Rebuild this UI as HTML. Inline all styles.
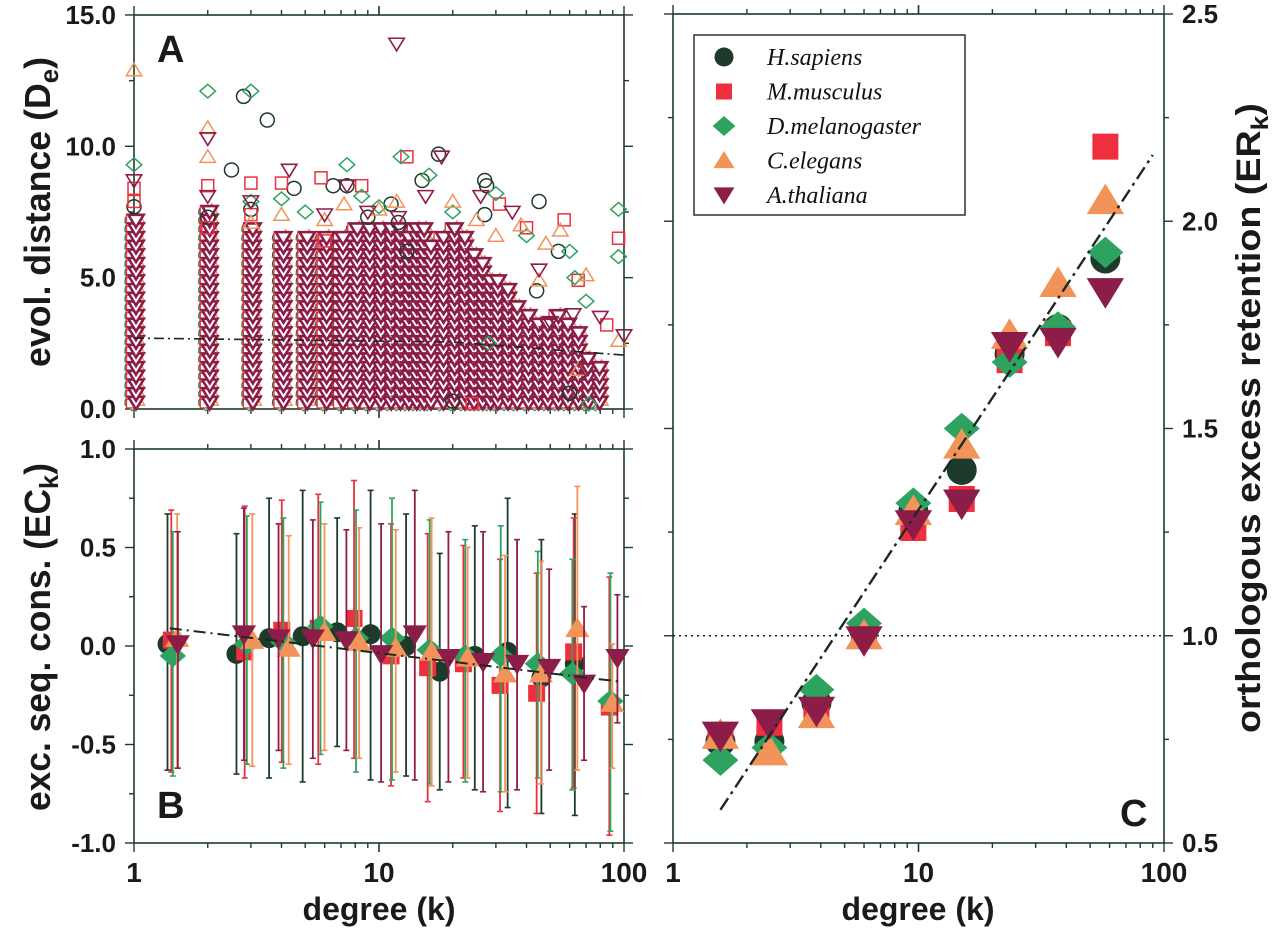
<!DOCTYPE html>
<html><head><meta charset="utf-8"><style>
html,body{margin:0;padding:0;background:#fff;}
svg{display:block;font-family:"Liberation Sans",sans-serif;}
</style></head><body>
<svg id="fig" width="1280" height="938" viewBox="0 0 1280 938" xmlns="http://www.w3.org/2000/svg"></svg>
<script>
// ---------- Panel A data ----------
const colDegreesA=[1,2,3,4,5,6,7,8,9,10,11,12,13,14,15,16,18,20,22,24,26,28,30,33,36,40,44,48,53,58,64,70,78];
const colTopsA=[7.4,7.6,6.9,6.8,6.6,6.6,6.8,6.9,6.9,7.0,7.0,6.9,6.8,6.9,7.0,6.5,6.6,6.9,6.6,6.1,5.6,5.2,5.0,4.8,4.2,3.8,3.5,3.4,3.6,3.3,2.9,2.0,1.6];
const hsOutK=[2.8,3.5,2.5,7.4,4.5,17.5,15,27,27.5,11.2,45,6.5,12,54,27,44,20,1,2,3,9,13,60];
const hsOutV=[11.9,11.0,9.1,8.5,8.4,9.7,8.7,8.7,8.5,7.8,7.9,8.5,7.1,6.0,7.4,4.5,0.3,7.7,7.3,7.6,7.3,6.0,0.6];
const mmOutK=[1,2,3,4,5.8,8.5,13,31,57,95,85,65,6,3,2,1,40,24];
const mmOutV=[8.4,8.5,8.6,8.6,8.8,8.5,9.6,7.8,7.2,6.5,3.2,4.9,6.4,7.4,6.9,7.9,6.9,0.2];
const dmOutK=[1,2,3,12.3,7.4,8.5,4,30,16,95,95,60,63,70,20,3,5,10,40,72,28];
const dmOutV=[9.3,12.1,12.1,9.6,9.3,8.1,8.0,8.2,8.9,7.6,5.8,6.0,5.0,4.1,7.5,7.9,7.5,7.7,6.6,0.2,2.5];
const ceOutK=[1,2,2,3,20,11.8,7.2,38,55,30,48,70,95,4,6,10,25,45,65];
const ceOutV=[12.9,10.7,9.6,7.1,7.9,7.9,7.8,7.0,6.8,6.6,6.3,5.1,2.6,7.4,7.2,7.6,7.2,4.9,1.5];
const atOutK=[11.8,2,3,4.3,7.4,18,15.5,26,35,80,100,2,1,6,9,12,45,62,50,70];
const atOutV=[13.9,10.3,7.9,9.1,8.5,9.6,8.1,8.1,7.5,3.5,2.8,8.1,8.7,7.4,7.5,7.3,5.3,3.6,3.3,1.5];
const trendAK=[1,20,100];
const trendAV=[2.7,2.55,2.05];
const yTicksA=["0.0","5.0","10.0","15.0"];
const yTickValsA=[0,5,10,15];

// ---------- Panel B data ----------
const hsK=[1.37,2.62,3.56,4.88,6.75,9.24,12.9,17.7,24.6,33.5,46,63];
const hsV=[0.01,-0.04,0.04,0.05,0.07,0.06,0.0,-0.13,-0.05,-0.03,-0.16,-0.09];
const hsHi=[0.67,0.57,0.75,0.79,0.65,0.79,0.67,0.47,0.61,0.75,0.54,0.67];
const hsLo=[-0.63,-0.65,-0.67,-0.69,-0.51,-0.68,-0.66,-0.73,-0.73,-0.82,-0.85,-0.86];
const mmK=[1.42,2.83,4.01,5.65,7.91,11.2,15.8,22.1,31.2,44,62.3,87.1];
const mmV=[0.03,-0.03,0.08,0.09,0.14,-0.05,-0.11,-0.09,-0.2,-0.24,-0.03,-0.31];
const mmHi=[0.69,0.71,0.74,0.77,0.84,0.62,0.57,0.51,0.44,0.37,0.65,0.35];
const mmLo=[-0.64,-0.67,-0.59,-0.6,-0.57,-0.71,-0.79,-0.67,-0.84,-0.85,-0.72,-0.96];
const dmK=[1.44,2.89,4.07,5.77,8.06,11.3,16.1,22.5,31.4,44.5,61.5,88];
const dmV=[-0.05,0.01,0.02,0.1,0.04,0.04,-0.02,-0.05,-0.05,-0.09,-0.14,-0.28];
const dmHi=[0.58,0.66,0.65,0.73,0.69,0.75,0.64,0.54,0.61,0.48,0.44,0.37];
const dmLo=[-0.66,-0.6,-0.62,-0.55,-0.64,-0.68,-0.7,-0.69,-0.74,-0.67,-0.73,-0.94];
const ceK=[1.5,3.04,4.28,5.99,8.3,11.7,16.4,23,32.7,45.8,64.5,89.6];
const ceV=[0.04,0.03,-0.01,0.07,0.02,-0.01,-0.03,-0.06,-0.14,-0.14,0.09,-0.29];
const ceHi=[0.67,0.67,0.56,0.62,0.6,0.59,0.65,0.5,0.46,0.43,0.81,0.01];
const ceLo=[-0.62,-0.61,-0.6,-0.53,-0.57,-0.64,-0.71,-0.67,-0.74,-0.7,-0.63,-0.62];
const atK=[1.51,2.81,3.89,5.37,7.36,10.2,14,19.2,26.6,36.6,49.5,68.7,94];
const atV=[0.01,0.06,0.04,0.04,0.03,-0.04,0.06,-0.06,-0.08,-0.09,-0.11,-0.19,-0.06];
const atHi=[0.58,0.7,0.62,0.64,0.59,0.62,0.79,0.58,0.58,0.54,0.39,0.2,0.26];
const atLo=[-0.62,-0.58,-0.53,-0.57,-0.53,-0.69,-0.68,-0.69,-0.74,-0.73,-0.63,-0.58,-0.39];
const trendBK=[1.4,95];
const trendBV=[0.09,-0.18];
const yTicksB=["-1.0","-0.5","0.0","0.5","1.0"];
const yTickValsB=[-1,-0.5,0,0.5,1];

// ---------- Panel C data ----------
const binK=[1.56,2.47,3.84,6.0,9.53,15,23.5,37,57.7];
const hsC=[0.745,0.745,0.838,1.015,1.30,1.40,1.68,1.74,1.91];
const mmC=[0.76,0.79,0.81,1.0,1.26,1.33,1.665,1.73,2.18];
const dmC=[0.70,0.73,0.87,1.03,1.32,1.50,1.66,1.745,1.925];
const ceC=[0.76,0.72,0.81,1.0,1.30,1.46,1.725,1.85,2.05];
const atC=[0.76,0.79,0.82,0.99,1.27,1.32,1.70,1.71,1.83];
const trendCK=[1.56,90];
const trendCV=[0.58,2.16];
const yTicksC=["0.5","1.0","1.5","2.0","2.5"];
const yTickValsC=[0.5,1,1.5,2,2.5];
const xTickLabels=["1","10","100"];
const xTickVals=[1,10,100];
const legendNames=["H.sapiens","M.musculus","D.melanogaster","C.elegans","A.thaliana"];

// ---------- scales ----------
const L=Math.log10;
const xA=k=>134+245*L(k);
const yA=v=>409-26.27*v;
const yB=v=>646-197*v;
const xC=k=>673+245.5*L(k);
const yC=v=>843-414.5*(v-0.5);

const NS="http://www.w3.org/2000/svg";
const svg=document.getElementById('fig');
function el(tag,attrs,parent){const e=document.createElementNS(NS,tag);for(const a in attrs)e.setAttribute(a,attrs[a]);(parent||svg).appendChild(e);return e;}
function grp(name){const g=el('g',{});


return g;}

const COL={hs:"#1d3a2a",mm:"#ee2f3d",dm:"#2ea35f",ce:"#f2935a",at:"#8c1c48"};
const AX="#1f3a2c";

function marker(g,type,x,y,s,fill,stroke,sw){
  let e;const h=s/2;
  if(type==='c')e=el('circle',{cx:x,cy:y,r:h},g);
  else if(type==='s')e=el('rect',{x:x-h,y:y-h,width:s,height:s},g);
  else if(type==='d')e=el('polygon',{points:`${x},${y-h*1.05} ${x+h*1.2},${y} ${x},${y+h*1.05} ${x-h*1.2},${y}`},g);
  else if(type==='u')e=el('polygon',{points:`${x},${y-h} ${x+h*1.1},${y+h*0.8} ${x-h*1.1},${y+h*0.8}`},g);
  else e=el('polygon',{points:`${x},${y+h} ${x+h*1.1},${y-h*0.8} ${x-h*1.1},${y-h*0.8}`},g);
  e.setAttribute('fill',fill);e.setAttribute('stroke',stroke||'none');e.setAttribute('stroke-width',sw||0);
  return e;
}

function frame(x0,x1,y0,y1,name){
  const g=grp(name);
  el('rect',{x:x0,y:y0,width:x1-x0,height:y1-y0,fill:'none',stroke:AX,'stroke-width':1.6},g);
  return g;
}
function logTicksX(g,xs,y0,y1){
  for(let d=0;d<2;d++)for(let m=1;m<=10;m++){
    const k=m*Math.pow(10,d);const x=xs(k);const major=(m===1||m===10);const len=major?9:5;
    el('line',{x1:x,y1:y1,x2:x,y2:y1+len,stroke:AX,'stroke-width':1.4},g);
    el('line',{x1:x,y1:y0,x2:x,y2:y0-len,stroke:AX,'stroke-width':1.4},g);
  }
}
function yTicks(g,x0,x1,vals,ys,minorStep,vmin,vmax){
  for(let v=vmin;v<=vmax+1e-9;v+=minorStep){
    const y=ys(v);const major=vals.some(t=>Math.abs(t-v)<1e-6);const len=major?9:5;
    el('line',{x1:x0,y1:y,x2:x0-len,y2:y,stroke:AX,'stroke-width':1.4},g);
    el('line',{x1:x1,y1:y,x2:x1+len,y2:y,stroke:AX,'stroke-width':1.4},g);
  }
}
function text(g,x,y,str,opts){
  const t=el('text',Object.assign({x:x,y:y,'font-weight':'bold','font-size':24,fill:'#1a1a1a'},opts||{}),g);
  t.textContent=str;return t;
}

// ===== Panel A =====
const gA=grp('panel-a');
const fa=frame(134,624,15,409,'panel-a-frame');
logTicksX(fa,xA,15,409);
yTicks(fa,134,624,yTickValsA,yA,2.5,0,15);
yTickValsA.forEach((v,i)=>{const t=text(fa,116,yA(v)+9,yTicksA[i],{'text-anchor':'end','font-size':26});

});

const gAp=grp('panel-a-points');
colDegreesA.forEach((k,i)=>{
  const x=xA(k);
  for(let v=0.25;v<=colTopsA[i];v+=0.33){
    if(k<=10)marker(gAp,'c',x-3,yA(v),12,'#fff','#3a4a40',1.1);
    marker(gAp,'d',x-2,yA(v)+2,12,'#fff',COL.dm,1.3);
    marker(gAp,'u',x+4,yA(v)-2,12,'#fff',COL.ce,1.4);
    marker(gAp,'s',x-2,yA(v),11,'#fff',COL.mm,1.3);
  }
});
colDegreesA.forEach((k,i)=>{
  const x=xA(k);
  for(let v=0.25;v<=colTopsA[i];v+=0.33){
    marker(gAp,'v',x+2,yA(v),14,'#fff',COL.at,2.6);
  }
});
hsOutK.forEach((k,i)=>marker(gAp,'c',xA(k),yA(hsOutV[i]),14,'none',COL.hs,1.5));
mmOutK.forEach((k,i)=>marker(gAp,'s',xA(k),yA(mmOutV[i]),12,'none',COL.mm,1.5));
dmOutK.forEach((k,i)=>marker(gAp,'d',xA(k),yA(dmOutV[i]),13,'none',COL.dm,1.5));
ceOutK.forEach((k,i)=>marker(gAp,'u',xA(k),yA(ceOutV[i]),14,'none',COL.ce,1.5));
atOutK.forEach((k,i)=>marker(gAp,'v',xA(k),yA(atOutV[i]),14,'none',COL.at,1.6));
const trA=el('polyline',{points:trendAK.map((k,i)=>xA(k)+','+yA(trendAV[i])).join(' '),fill:'none',stroke:'#1a2a20','stroke-width':1.6,'stroke-dasharray':'10 4 2 4'});


const lA=text(gA,157,62,'A',{'font-size':38});



// ===== Panel B =====
const fb=frame(134,624,449,843,'panel-b-frame');
logTicksX(fb,xA,449,843);
yTicks(fb,134,624,yTickValsB,yB,0.25,-1,1);
yTickValsB.forEach((v,i)=>{const t=text(fb,116,yB(v)+9,yTicksB[i],{'text-anchor':'end','font-size':26});

});
xTickVals.forEach((k,i)=>{const t=text(fb,xA(k),882,xTickLabels[i],{'text-anchor':'middle','font-size':28});

});
const gBp=grp('panel-b-points');
function errSeries(K,V,Hi,Lo,col,type,name){
  const g=grp(name);gBp.appendChild(g);
  K.forEach((k,i)=>{const x=xA(k);
    el('line',{x1:x,y1:yB(Hi[i]),x2:x,y2:yB(Lo[i]),stroke:col,'stroke-width':1.8},g);
    el('line',{x1:x-3,y1:yB(Hi[i]),x2:x+3,y2:yB(Hi[i]),stroke:col,'stroke-width':1.6},g);
    el('line',{x1:x-3,y1:yB(Lo[i]),x2:x+3,y2:yB(Lo[i]),stroke:col,'stroke-width':1.6},g);
  });
  return g;
}
const eb=[[hsK,hsV,hsHi,hsLo,COL.hs,'c','hs'],[mmK,mmV,mmHi,mmLo,COL.mm,'s','mm'],[dmK,dmV,dmHi,dmLo,COL.dm,'d','dm'],[ceK,ceV,ceHi,ceLo,COL.ce,'u','ce'],[atK,atV,atHi,atLo,COL.at,'v','at']];
const ebG=eb.map(s=>errSeries(s[0],s[1],s[2],s[3],s[4],s[5],'errorbars-'+s[6]));
eb.forEach((s,j)=>{s[0].forEach((k,i)=>{marker(ebG[j],s[5],xA(k),yB(s[1][i]),s[5]==='c'?20:(s[5]==='s'?17:22),s[4]);});});
const trB=el('polyline',{points:trendBK.map((k,i)=>xA(k)+','+yB(trendBV[i])).join(' '),fill:'none',stroke:'#1a2a20','stroke-width':2,'stroke-dasharray':'12 5 2 5'});


const lB=text(fb,157,818,'B',{'font-size':38});



// ===== Panel C =====
const fc=frame(673,1164,14,843,'panel-c-frame');
logTicksX(fc,xC,14,843);
yTicks(fc,673,1164,yTickValsC,yC,0.25,0.5,2.5);
yTickValsC.forEach((v,i)=>{const t=text(fc,1182,yC(v)+9,yTicksC[i],{'font-size':26});

});
xTickVals.forEach((k,i)=>{const t=text(fc,xC(k),882,xTickLabels[i],{'text-anchor':'middle','font-size':28});

});
const dotted=el('line',{x1:673,y1:yC(1),x2:1164,y2:yC(1),stroke:'#222','stroke-width':1.4,'stroke-dasharray':'2 4'});


const gCp=grp('panel-c-points');
const cs=[[hsC,'c',COL.hs,30],[mmC,'s',COL.mm,26],[dmC,'d',COL.dm,30],[ceC,'u',COL.ce,34],[atC,'v',COL.at,34]];
cs.forEach(s=>binK.forEach((k,i)=>marker(gCp,s[1],xC(k),yC(s[0][i]),s[3],s[2])));
const trC=el('polyline',{points:trendCK.map((k,i)=>xC(k)+','+yC(trendCV[i])).join(' '),fill:'none',stroke:'#1a2a20','stroke-width':2.4,'stroke-dasharray':'14 5 3 5'});


const lC=text(fc,1120,826,'C',{'font-size':38});



// legend
const lg=grp('legend');
el('rect',{x:694,y:35,width:271,height:180,fill:'#fff',stroke:'#222','stroke-width':1.4},lg);
const lgTypes=['c','s','d','u','v'];const lgCols=[COL.hs,COL.mm,COL.dm,COL.ce,COL.at];
legendNames.forEach((n,i)=>{const y=57+i*34.5;
  const e=grp('legend-entry');lg.appendChild(e);
  marker(e,lgTypes[i],724,y,lgTypes[i]==='s'?16:19,lgCols[i]);
  const t=el('text',{x:767,y:y+8,'font-family':'"Liberation Serif",serif','font-style':'italic','font-size':24,fill:'#111'},e);t.textContent=n;
});

// axis titles
function title(str,x,y,rot,size,len,name){
  const t=el('text',{x:0,y:0,transform:`translate(${x},${y}) rotate(${rot})`,'text-anchor':'middle','font-weight':'bold','font-size':size,fill:'#1a1a1a'});
  if(len){t.setAttribute('textLength',len);t.setAttribute('lengthAdjust','spacingAndGlyphs');}
  t.textContent=str;
  
  
  return t;
}
let t1=title('',50,212,-90,36,310,'y-axis-title-a');
t1.innerHTML='evol. distance (D<tspan font-size="26" dy="8">e</tspan><tspan dy="-8">)</tspan>';
let t2=title('',50,637,-90,36,348,'y-axis-title-b');
t2.innerHTML='exc. seq. cons. (EC<tspan font-size="26" dy="8">k</tspan><tspan dy="-8">)</tspan>';
let t3=title('',1260,418,-90,34,630,'y-axis-title-c');
t3.innerHTML='orthologous excess retention (ER<tspan font-size="24" dy="8">k</tspan><tspan dy="-8">)</tspan>';
title('degree (k)',379,920,0,32,0,'x-axis-title-b');
title('degree (k)',918,920,0,32,0,'x-axis-title-c');
</script>
</body></html>
